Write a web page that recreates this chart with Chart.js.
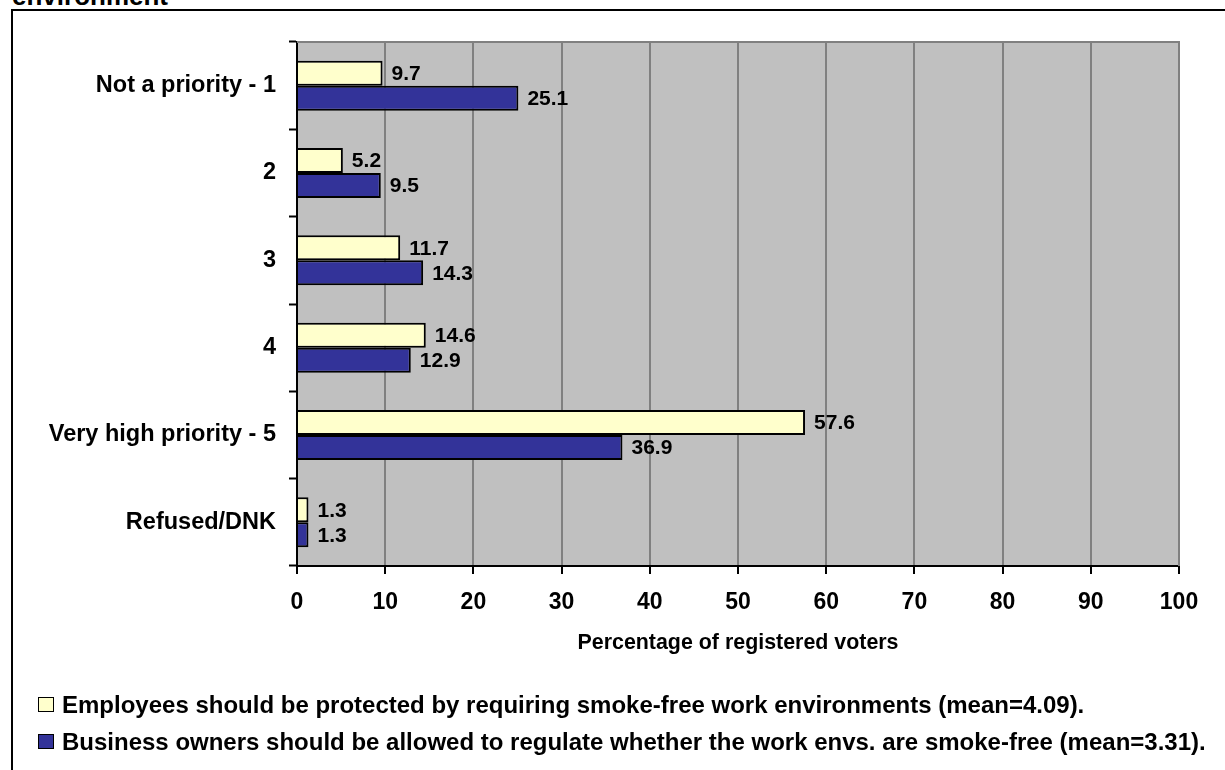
<!DOCTYPE html>
<html lang="en">
<head>
    <meta charset="UTF-8">
    <title>Priority of smoke-free work environment</title>
    <script src="https://cdn.jsdelivr.net/npm/chart.js"></script>
    <style>
        body { margin: 0; background: #fff; font-family: "Liberation Sans", Arial, sans-serif; font-weight: bold; color: #000; }
        #wrap { position: relative; width: 1225px; height: 770px; overflow: hidden; }
        #frame { position: absolute; left: 11px; top: 9px; width: 1400px; height: 900px; border-left: 2px solid #000; border-top: 2px solid #000; }
        #heading { position: absolute; left: 12px; top: -17.5px; font-size: 26px; line-height: 26px; white-space: nowrap; }
        canvas { position: absolute; left: 0; top: 0; }
        .key { position: absolute; left: 38px; width: 14px; height: 13px; border: 1.5px solid #000; }
        .keytext { position: absolute; left: 62px; font-size: 24px; line-height: 24px; white-space: nowrap; }
    </style>
</head>
<body>
<div id="wrap">
    <div id="heading">environment</div>
    <div id="frame"></div>
    <canvas id="priorityChart" width="1225" height="770"></canvas>
    <div class="key" style="top:697px;background:#FFFFCC"></div>
    <div class="keytext" style="top:692.5px">Employees should be protected by requiring smoke-free work environments (mean=4.09).</div>
    <div class="key" style="top:734px;background:#333399"></div>
    <div class="keytext" style="top:729.5px">Business owners should be allowed to regulate whether the work envs. are smoke-free (mean=3.31).</div>
</div>
<script>
    const categories = ['Not a priority - 1', '2', '3', '4', 'Very high priority - 5', 'Refused/DNK'];
    const employees = [9.7, 5.2, 11.7, 14.6, 57.6, 1.3];
    const owners = [25.1, 9.5, 14.3, 12.9, 36.9, 1.3];
    const seriesNames = [
        'Employees should be protected by requiring smoke-free work environments (mean=4.09).',
        'Business owners should be allowed to regulate whether the work envs. are smoke-free (mean=3.31).'
    ];
    const xMin = 0, xMax = 100, xStep = 10;

    Chart.defaults.font.family = '"Liberation Sans", Arial, sans-serif';
    Chart.defaults.color = '#000';

    // grey plot background with a grey frame on top and right
    const plotArea = {
        id: 'plotArea',
        beforeDraw(chart) {
            const { ctx, chartArea: a } = chart;
            ctx.save();
            ctx.fillStyle = '#C0C0C0';
            ctx.fillRect(a.left, a.top, a.right - a.left, a.bottom - a.top);
            ctx.restore();
        },
        beforeDatasetsDraw(chart) {
            const { ctx, chartArea: a } = chart;
            ctx.save();
            ctx.strokeStyle = '#808080';
            ctx.lineWidth = 2;
            ctx.beginPath();
            ctx.moveTo(a.left, a.top);
            ctx.lineTo(a.right, a.top);
            ctx.lineTo(a.right, a.bottom);
            ctx.stroke();
            ctx.restore();
        }
    };

    // value labels to the right of each bar
    const barValues = {
        id: 'barValues',
        afterDatasetsDraw(chart) {
            const { ctx } = chart;
            ctx.save();
            ctx.font = 'bold 21px "Liberation Sans", Arial, sans-serif';
            ctx.fillStyle = '#000';
            ctx.textAlign = 'left';
            ctx.textBaseline = 'middle';
            chart.data.datasets.forEach((ds, i) => {
                chart.getDatasetMeta(i).data.forEach((bar, j) => {
                    ctx.fillText(ds.data[j].toFixed(1), bar.x + 9, bar.y + 1);
                });
            });
            ctx.restore();
        }
    };

    new Chart(document.getElementById('priorityChart'), {
        type: 'bar',
        data: {
            labels: categories,
            datasets: [{
                label: seriesNames[0],
                data: employees,
                backgroundColor: '#FFFFCC',
                borderColor: '#000',
                borderWidth: 2
            }, {
                label: seriesNames[1],
                data: owners,
                backgroundColor: '#333399',
                borderColor: '#000',
                borderWidth: 2
            }]
        },
        options: {
            indexAxis: 'y',
            responsive: false,
            animation: false,
            categoryPercentage: 0.573,
            barPercentage: 1,
            layout: { padding: { top: 42, right: 46, bottom: 94, left: 0 } },
            plugins: {
                legend: { display: false },
                tooltip: { enabled: false }
            },
            scales: {
                x: {
                    min: xMin,
                    max: xMax,
                    afterFit(scale) { scale.height = 110; },
                    ticks: {
                        stepSize: xStep,
                        padding: 15,
                        font: { size: 23, weight: 'bold' }
                    },
                    grid: {
                        color: c => c.index === 0 ? 'rgba(0,0,0,0)' : '#808080',
                        lineWidth: 2,
                        tickColor: '#000',
                        tickLength: 8,
                        tickWidth: 2
                    },
                    border: { color: '#000', width: 2 },
                    title: {
                        display: true,
                        text: 'Percentage of registered voters',
                        font: { size: 21.4, weight: 'bold' },
                        padding: { top: 0, bottom: 20 }
                    }
                },
                y: {
                    afterFit(scale) { scale.width = 297; },
                    ticks: {
                        padding: 13,
                        font: { size: 23.5, weight: 'bold' }
                    },
                    grid: {
                        offset: true,
                        drawOnChartArea: false,
                        tickColor: '#000',
                        tickLength: 8,
                        tickWidth: 2
                    },
                    border: { color: '#000', width: 2 }
                }
            }
        },
        plugins: [plotArea, barValues]
    });
</script>
</body>
</html>
